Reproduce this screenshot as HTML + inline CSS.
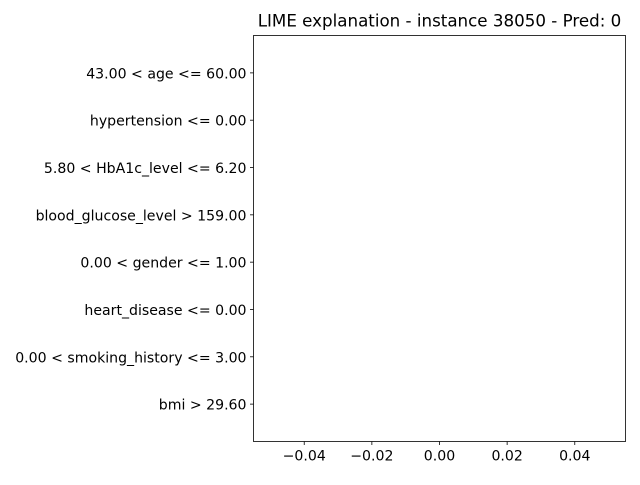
<!DOCTYPE html>
<html><head><meta charset="utf-8"><style>
body{margin:0;background:#fff}
svg text{font-family:"DejaVu Sans","Liberation Sans",sans-serif;fill:#000}
</style></head><body>
<svg width="640" height="480">
<g id="plot"></g>
</svg>
<script>
const features = ["bmi > 29.60","0.00 < smoking_history <= 3.00","heart_disease <= 0.00","0.00 < gender <= 1.00","blood_glucose_level > 159.00","5.80 < HbA1c_level <= 6.20","hypertension <= 0.00","43.00 < age <= 60.00"];
const weights = [0,0,0,0,0,0,0,0];
const xTicks = [-0.04,-0.02,0.00,0.02,0.04];
const xTickLabels = ["\u22120.04","\u22120.02","0.00","0.02","0.04"];

const L=253.5,R=625.5,T=35.5,B=441.5;
const xmin=-0.055,xmax=0.055,ymin=-0.79,ymax=7.79;
const sx=v=>L+(v-xmin)/(xmax-xmin)*(R-L);
const sy=v=>B-(v-ymin)/(ymax-ymin)*(B-T);
const NS="http://www.w3.org/2000/svg";
const g=document.getElementById('plot');
function mk(t,a){const e=document.createElementNS(NS,t);for(const k in a)e.setAttribute(k,a[k]);g.appendChild(e);return e;}

features.forEach((f,i)=>{
  const w=weights[i];
  const b=mk('rect',{x:Math.min(sx(0),sx(w)),y:sy(i+0.4),width:Math.abs(sx(w)-sx(0)),height:sy(i-0.4)-sy(i+0.4),fill:w>0?'green':'red'});
  
  
  const tk=mk('line',{x1:L,x2:L-3.5,y1:sy(i),y2:sy(i),stroke:'#000','stroke-width':0.8});
  
  
  const t=mk('text',{x:L-7,y:sy(i)+5.5,'text-anchor':'end','font-size':'14.1px'});
  t.textContent=f;
  
  
});
xTicks.forEach((v,i)=>{
  const tk=mk('line',{x1:sx(v),x2:sx(v),y1:B,y2:B+3.5,stroke:'#000','stroke-width':0.8});
  
  
  const t=mk('text',{x:sx(v),y:B+19,'text-anchor':'middle','font-size':'14.1px'});
  t.textContent=xTickLabels[i];
  
  
});
const fr=mk('rect',{x:L,y:T,width:R-L,height:B-T,fill:'none',stroke:'#000','stroke-width':0.8});


const ti=mk('text',{x:(L+R)/2,y:T-9,'text-anchor':'middle','font-size':'16.7px'});
ti.textContent="LIME explanation - instance 38050 - Pred: 0";


</script>
</body></html>
